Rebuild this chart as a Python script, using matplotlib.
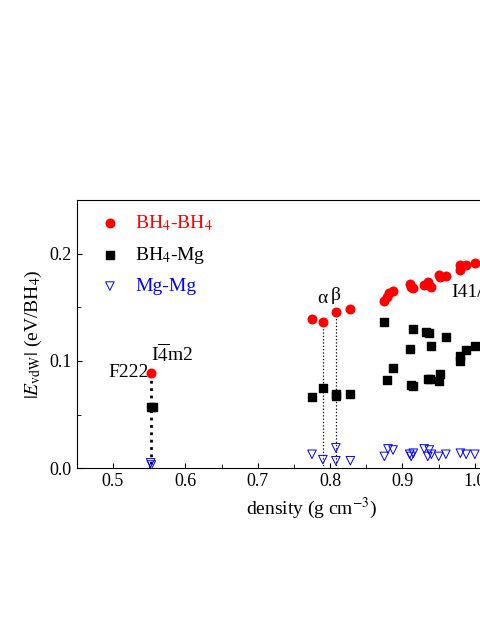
import matplotlib.pyplot as plt
import numpy as np

plt.rcParams['font.family'] = ['Liberation Serif', 'DejaVu Serif']
plt.rcParams['mathtext.fontset'] = 'stix'

bb_x = [0.552, 0.775, 0.79, 0.808, 0.828, 0.875, 0.878, 0.882, 0.887, 0.91, 0.912, 0.914,
        0.93, 0.935, 0.94, 0.95, 0.952, 0.96, 0.98, 0.98, 0.988, 1.0]
bb_y = [0.089, 0.139, 0.136, 0.146, 0.148, 0.156, 0.160, 0.163, 0.165, 0.172, 0.169, 0.168,
        0.171, 0.174, 0.169, 0.180, 0.178, 0.179, 0.189, 0.185, 0.189, 0.191]
bm_x = [0.552, 0.555, 0.775, 0.79, 0.808, 0.808, 0.828, 0.875, 0.878, 0.887, 0.91, 0.912,
        0.915, 0.915, 0.932, 0.937, 0.935, 0.938, 0.94, 0.95, 0.952, 0.96, 0.98, 0.98, 0.988, 1.0]
bm_y = [0.057, 0.057, 0.066, 0.075, 0.069, 0.067, 0.069, 0.136, 0.082, 0.093, 0.111, 0.078,
        0.077, 0.130, 0.127, 0.126, 0.083, 0.083, 0.114, 0.081, 0.088, 0.122, 0.105, 0.100, 0.110, 0.114]
mm_x = [0.552, 0.553, 0.775, 0.79, 0.808, 0.808, 0.828, 0.875, 0.88, 0.887, 0.91, 0.912,
        0.915, 0.93, 0.935, 0.937, 0.94, 0.95, 0.96, 0.98, 0.988, 1.0]
mm_y = [0.005, 0.003, 0.013, 0.008, 0.019, 0.007, 0.007, 0.011, 0.018, 0.017, 0.013, 0.011,
        0.014, 0.018, 0.011, 0.017, 0.013, 0.011, 0.013, 0.014, 0.013, 0.013]

fig = plt.figure(figsize=(4.8, 6.21), dpi=100)
ax = fig.add_axes([0.16, 0.246, 0.98, 0.432])

# dotted guide lines
ax.plot([0.552, 0.552], [0.089, 0.004], ':', color='black', lw=2, zorder=1)
ax.plot([0.79, 0.79], [0.136, 0.0], ':', color='black', lw=0.9, zorder=1)
ax.plot([0.808, 0.808], [0.146, 0.0], ':', color='black', lw=0.9, zorder=1)

ax.scatter(bb_x, bb_y, marker='o', s=38, color='red', label=r'BH$_4$-BH$_4$', zorder=3)
ax.scatter(bm_x, bm_y, marker='s', s=32, color='black', label=r'BH$_4$-Mg', zorder=3)
ax.scatter(mm_x, mm_y, marker='v', s=38, facecolors='none', edgecolors='blue',
           linewidths=0.7, label='Mg-Mg', zorder=3)

ax.text(0.549, 0.089, 'F222', ha='right', va='center', fontsize=14)
ax.text(0.553, 0.096, r'I$\overline{4}$m2', ha='left', va='bottom', fontsize=14)
ax.text(0.79, 0.150, 'α', ha='center', va='bottom', fontsize=14)
ax.text(0.808, 0.153, 'β', ha='center', va='bottom', fontsize=14)
ax.text(0.968, 0.164, 'I41/amd', ha='left', va='center', fontsize=14)

ax.set_xlim(0.45, 1.1)
ax.set_ylim(0, 0.25)
ax.set_xticks([0.5, 0.6, 0.7, 0.8, 0.9, 1.0, 1.1])
ax.set_yticks([0.0, 0.1, 0.2])
ax.set_xticks(np.arange(0.45, 1.1, 0.05), minor=True)
ax.set_yticks(np.arange(0.05, 0.25, 0.1), minor=True)
ax.tick_params(direction='in', which='both', labelsize=13)
ax.tick_params(which='minor', length=3)
ax.set_xlabel(r'density (g cm$^{-3}$)', fontsize=14)
ax.set_ylabel(r'$|E_{\mathrm{vdW}}|$ (eV/BH$_4$)', fontsize=14)

leg = ax.legend(loc='upper left', frameon=False, fontsize=14, handletextpad=0.3,
                borderaxespad=0.3, labelspacing=0.6)
for t, c in zip(leg.get_texts(), ['red', 'black', 'blue']):
    t.set_color(c)

fig.savefig('out.png', dpi=100)
